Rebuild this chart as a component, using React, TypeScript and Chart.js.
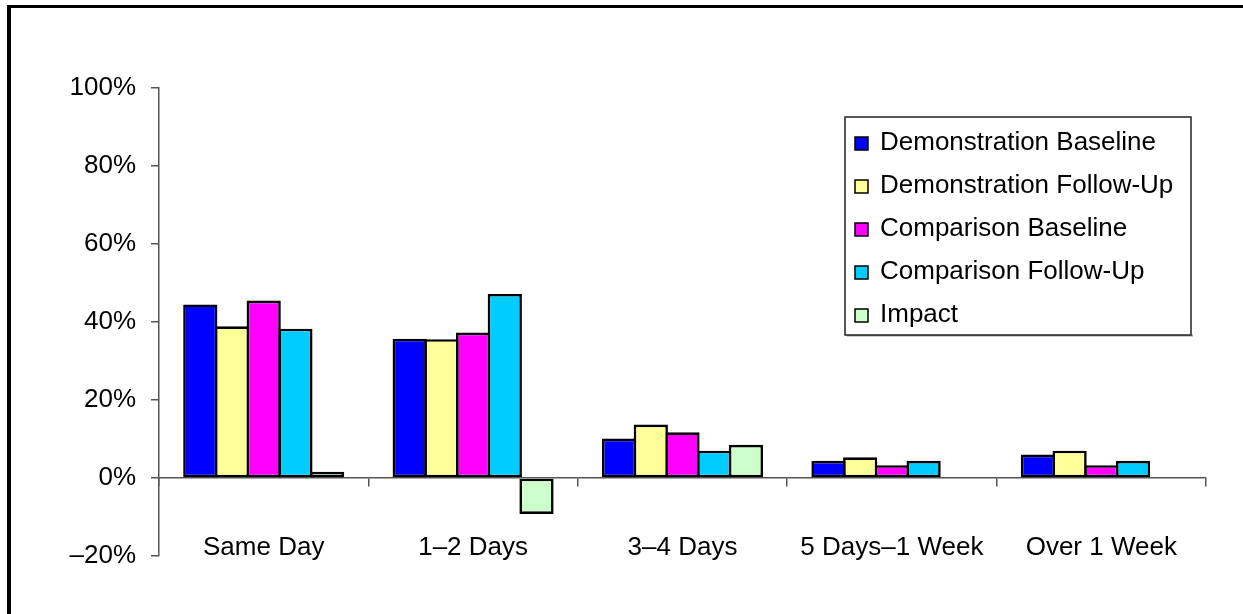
import React, { useEffect, useRef } from "react";
import { Chart, registerables } from "chart.js";

Chart.register(...registerables);

// Response time categories and the share of cases in each, by group (percent)
const categories = ["Same Day", "1\u20132 Days", "3\u20134 Days", "5 Days\u20131 Week", "Over 1 Week"];
const demonstrationBaseline = [44.5, 35.7, 10.1, 4.4, 6.0];
const demonstrationFollowUp = [38.9, 35.6, 13.7, 5.3, 7.0];
const comparisonBaseline = [45.5, 37.3, 11.7, 3.3, 3.3];
const comparisonFollowUp = [38.3, 47.2, 7.0, 4.4, 4.4];
const impact = [1.6, -9.2, 8.5, 0, 0];

const seriesNames = [
  "Demonstration Baseline",
  "Demonstration Follow-Up",
  "Comparison Baseline",
  "Comparison Follow-Up",
  "Impact",
];
const seriesColors = ["#0000FF", "#FFFF99", "#FF00FF", "#00CCFF", "#CCFFCC"];

const yTicks = [-20, 0, 20, 40, 60, 80, 100];

const FONT = "'Liberation Sans', Arial, Helvetica, sans-serif";
const AXIS_COLOR = "#555555";

// Legend drawn as a framed box inside the plot area, top right
const boxedLegend = {
  id: "boxedLegend",
  afterDraw(chart: any, _args: any, opts: any) {
    const { ctx } = chart;
    const { left, top, right, bottom, rowHeight, firstBaseline, swatch, textX, swatchX } = opts;
    ctx.save();
    // soft shadow along the lower edge
    ctx.fillStyle = "#9a9a9a";
    ctx.fillRect(left + 2, bottom - 0.5, right - left, 2);
    ctx.fillStyle = "#ffffff";
    ctx.fillRect(left, top, right - left, bottom - top);
    ctx.strokeStyle = "#222222";
    ctx.lineWidth = 1.5;
    ctx.strokeRect(left, top, right - left, bottom - top);

    ctx.font = `26px ${FONT}`;
    ctx.textBaseline = "alphabetic";
    ctx.textAlign = "left";
    chart.data.datasets.forEach((ds: any, i: number) => {
      const base = firstBaseline + i * rowHeight;
      ctx.fillStyle = ds.backgroundColor;
      ctx.fillRect(swatchX, base - swatch, swatch, swatch);
      ctx.strokeStyle = "#000000";
      ctx.lineWidth = 1.5;
      ctx.strokeRect(swatchX, base - swatch, swatch, swatch);
      ctx.fillStyle = "#000000";
      ctx.fillText(ds.label, textX, base);
    });
    ctx.restore();
  },
};

export default function App() {
  const canvasRef = useRef<HTMLCanvasElement | null>(null);

  useEffect(() => {
    const canvas = canvasRef.current;
    if (!canvas) return;

    const seriesData = [
      demonstrationBaseline,
      demonstrationFollowUp,
      comparisonBaseline,
      comparisonFollowUp,
      impact,
    ];

    const chart = new Chart(canvas, {
      type: "bar",
      data: {
        labels: categories,
        datasets: seriesData.map((values, i) => ({
          label: seriesNames[i],
          data: values,
          backgroundColor: seriesColors[i],
          borderColor: "#000000",
          borderWidth: 2.6,
          borderSkipped: false,
          categoryPercentage: 0.757,
          barPercentage: 1.08,
        })),
      },
      options: {
        responsive: false,
        animation: false,
        devicePixelRatio: 1,
        layout: { padding: { top: 88, right: 37, bottom: 58, left: 0 } },
        plugins: {
          legend: { display: false },
          tooltip: { enabled: false },
          boxedLegend: {
            left: 845,
            top: 117,
            right: 1191,
            bottom: 335,
            rowHeight: 43,
            firstBaseline: 150,
            swatch: 13,
            swatchX: 855,
            textX: 880,
          },
        } as any,
        scales: {
          x: {
            type: "category",
            position: { y: 0 } as any,
            offset: true,
            grid: {
              display: true,
              offset: true,
              drawOnChartArea: false,
              drawTicks: true,
              tickLength: 8,
              color: AXIS_COLOR,
              lineWidth: 1.5,
            },
            border: { display: true, color: AXIS_COLOR, width: 1.5 },
            ticks: {
              color: "#000000",
              font: { family: FONT, size: 26 },
              padding: 46,
              maxRotation: 0,
              autoSkip: false,
            },
          },
          y: {
            type: "linear",
            min: yTicks[0],
            max: yTicks[yTicks.length - 1],
            afterBuildTicks: (scale: any) => {
              scale.ticks = yTicks.map((v) => ({ value: v }));
            },
            afterFit: (scale: any) => {
              scale.width = 159;
            },
            grid: {
              display: true,
              drawOnChartArea: false,
              drawTicks: true,
              tickLength: 8,
              color: AXIS_COLOR,
              lineWidth: 1.5,
            },
            border: { display: true, color: AXIS_COLOR, width: 1.5 },
            ticks: {
              color: "#000000",
              font: { family: FONT, size: 26 },
              padding: 15,
              callback: (v: any) => (Number(v) < 0 ? `\u2013${Math.abs(Number(v))}%` : `${v}%`),
            },
          },
        },
      },
      plugins: [boxedLegend],
    });

    return () => chart.destroy();
  }, []);

  return (
    <div
      style={{
        position: "fixed",
        left: 0,
        top: 0,
        width: 1243,
        height: 614,
        overflow: "hidden",
        background: "#ffffff",
      }}
    >
      <canvas
        ref={canvasRef}
        width={1243}
        height={614}
        style={{ position: "absolute", left: 0, top: 0, width: 1243, height: 614 }}
      />
      <div
        style={{
          position: "absolute",
          left: 7,
          top: 5,
          width: 1300,
          height: 700,
          borderTop: "3px solid #000000",
          borderLeft: "4px solid #000000",
          pointerEvents: "none",
        }}
      />
    </div>
  );
}
